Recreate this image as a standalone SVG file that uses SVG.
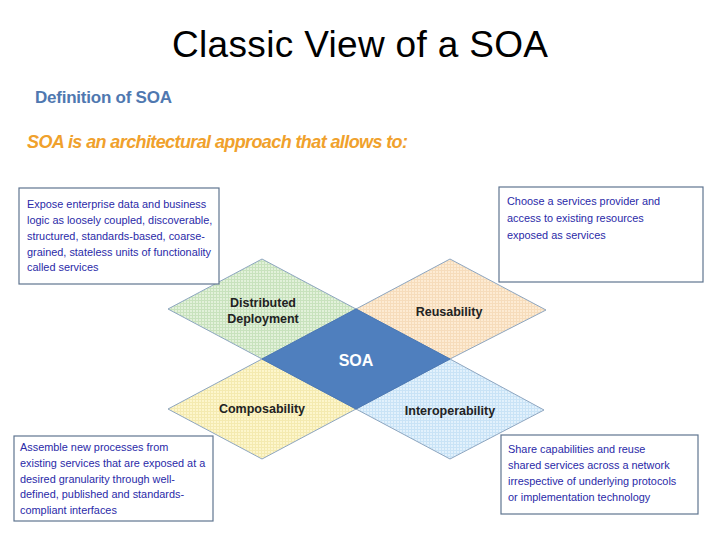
<svg xmlns="http://www.w3.org/2000/svg" width="720" height="540" viewBox="0 0 720 540">
  <defs>
    <pattern id="gGreen" width="3" height="3" patternUnits="userSpaceOnUse">
      <rect width="3" height="3" fill="#e2f1da"/>
      <path d="M0 0.5H3M0.5 0V3" stroke="#c8e2bd" stroke-width="1"/>
    </pattern>
    <pattern id="gOrange" width="3" height="3" patternUnits="userSpaceOnUse">
      <rect width="3" height="3" fill="#fdebd3"/>
      <path d="M0 0.5H3M0.5 0V3" stroke="#f6dcbb" stroke-width="1"/>
    </pattern>
    <pattern id="gYellow" width="3" height="3" patternUnits="userSpaceOnUse">
      <rect width="3" height="3" fill="#fdf6cc"/>
      <path d="M0 0.5H3M0.5 0V3" stroke="#f4eab0" stroke-width="1"/>
    </pattern>
    <pattern id="gBlue" width="3" height="3" patternUnits="userSpaceOnUse">
      <rect width="3" height="3" fill="#e2f1fc"/>
      <path d="M0 0.5H3M0.5 0V3" stroke="#c9e3f6" stroke-width="1"/>
    </pattern>
  </defs>
  <style>
    .title{font-family:"Liberation Sans",Arial,sans-serif;font-size:37px;fill:#000}
    .def{font-family:"Liberation Sans",Arial,sans-serif;font-size:17px;font-weight:bold;fill:#4f78b0}
    .sub{font-family:"Liberation Sans",Arial,sans-serif;font-size:18px;font-weight:bold;font-style:italic;fill:#f0a12c}
    .box{fill:#ffffff;stroke:#5f7590;stroke-width:1.2}
    .bt{font-family:"Liberation Sans",Arial,sans-serif;font-size:10.9px;fill:#2a2aa8}
    .dia{stroke:#8ea6c0;stroke-width:1}
    .dl{font-family:"Liberation Sans",Arial,sans-serif;font-size:12.5px;font-weight:bold;fill:#222;text-anchor:middle}
    .soa{font-family:"Liberation Sans",Arial,sans-serif;font-size:16px;font-weight:bold;fill:#ffffff;text-anchor:middle}
  </style>
  <rect width="720" height="540" fill="#ffffff"/>

  <text class="title" x="360" y="57" text-anchor="middle" textLength="376">Classic View of a SOA</text>
  <text class="def" x="35" y="103" textLength="137">Definition of SOA</text>
  <text class="sub" x="27" y="148" textLength="381">SOA is an architectural approach that allows to:</text>

  <g id="distributed">
    <polygon class="dia" points="168,309 262,259 356,309 262,359" fill="url(#gGreen)"/>
    <text class="dl" x="263" y="307">Distributed</text>
    <text class="dl" x="263" y="323">Deployment</text>
  </g>
  <g id="reusability">
    <polygon class="dia" points="356,309 450,259 546,310 450,359" fill="url(#gOrange)"/>
    <text class="dl" x="449" y="316">Reusability</text>
  </g>
  <g id="composability">
    <polygon class="dia" points="168,409 262,359 356,409 262,459" fill="url(#gYellow)"/>
    <text class="dl" x="262" y="413">Composability</text>
  </g>
  <g id="interoperability">
    <polygon class="dia" points="356,409 450,359 544,410 450,459" fill="url(#gBlue)"/>
    <text class="dl" x="450" y="415">Interoperability</text>
  </g>
  <g id="soa">
    <polygon points="262,359 356,309 450,359 356,409" fill="#4f7fbe" stroke="#4a78b5" stroke-width="1"/>
    <text class="soa" x="356" y="366">SOA</text>
  </g>

  <g id="box-expose">
    <rect class="box" x="19" y="188" width="200" height="96"/>
    <text class="bt" x="27" y="208">Expose enterprise data and business</text>
    <text class="bt" x="27" y="224">logic as loosely coupled, discoverable,</text>
    <text class="bt" x="27" y="240">structured, standards-based, coarse-</text>
    <text class="bt" x="27" y="256">grained, stateless units of functionality</text>
    <text class="bt" x="27" y="271">called services</text>
  </g>
  <g id="box-choose">
    <rect class="box" x="499" y="187" width="204" height="95"/>
    <text class="bt" x="507" y="205">Choose a services provider and</text>
    <text class="bt" x="507" y="222">access to existing resources</text>
    <text class="bt" x="507" y="239">exposed as services</text>
  </g>
  <g id="box-assemble">
    <rect class="box" x="14" y="436" width="199" height="85"/>
    <text class="bt" x="20" y="451">Assemble new processes from</text>
    <text class="bt" x="20" y="467">existing services that are exposed at a</text>
    <text class="bt" x="20" y="483">desired granularity through well-</text>
    <text class="bt" x="20" y="498">defined, published and standards-</text>
    <text class="bt" x="20" y="514">compliant interfaces</text>
  </g>
  <g id="box-share">
    <rect class="box" x="501" y="435" width="197" height="79"/>
    <text class="bt" x="508" y="453">Share capabilities and reuse</text>
    <text class="bt" x="508" y="469">shared services across a network</text>
    <text class="bt" x="508" y="485">irrespective of underlying protocols</text>
    <text class="bt" x="508" y="501">or implementation technology</text>
  </g>
</svg>
